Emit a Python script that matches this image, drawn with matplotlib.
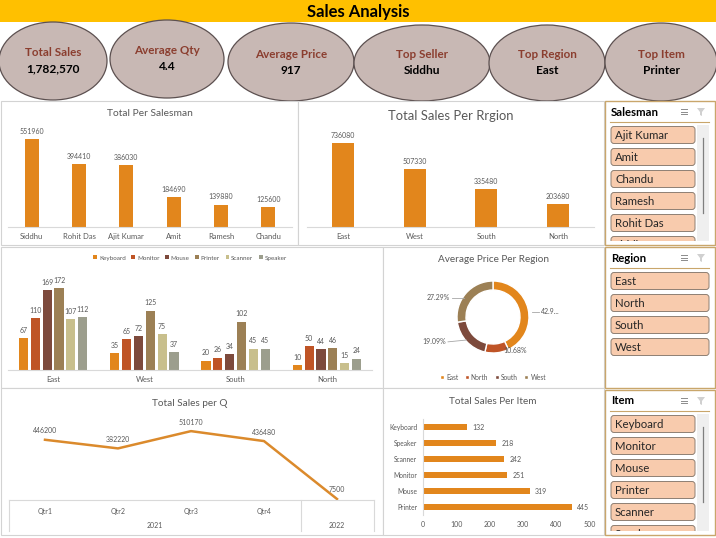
import matplotlib
matplotlib.use("Agg")
import matplotlib.pyplot as plt
from matplotlib.patches import Ellipse, Rectangle, FancyBboxPatch, Polygon

# ---- data ----
kpi_labels = ["Total Sales", "Average Qty", "Average Price", "Top Seller", "Top Region", "Top Item"]
kpi_values = ["1,782,570", "4.4", "917", "Siddhu", "East", "Printer"]

salesmen = ["Siddhu", "Rohit Das", "Ajit Kumar", "Amit", "Ramesh", "Chandu"]
salesman_totals = [551960, 394410, 386030, 184690, 139880, 125600]

regions = ["East", "West", "South", "North"]
region_totals = [736080, 507330, 335480, 203680]

items = ["Keyboard", "Monitor", "Mouse", "Printer", "Scanner", "Speaker"]
qty_east = [67, 110, 169, 172, 107, 112]
qty_west = [35, 65, 72, 125, 75, 37]
qty_south = [20, 26, 34, 102, 45, 45]
qty_north = [10, 50, 44, 46, 15, 24]

price_regions = ["East", "North", "South", "West"]
price_share = [42.94, 10.68, 19.09, 27.29]
price_labels = ["42.9...", "10.68%", "19.09%", "27.29%"]

quarters = ["Qtr1", "Qtr2", "Qtr3", "Qtr4", ""]
years = ["2021", "2022"]
quarter_sales = [446200, 382220, 510170, 436480, 7500]

item_order = ["Keyboard", "Speaker", "Scanner", "Monitor", "Mouse", "Printer"]
item_totals = [132, 218, 242, 251, 319, 445]

slicer_salesman = ["Ajit Kumar", "Amit", "Chandu", "Ramesh", "Rohit Das", "Siddhu"]
slicer_region = ["East", "North", "South", "West"]
slicer_item = ["Keyboard", "Monitor", "Mouse", "Printer", "Scanner", "Speaker"]

# ---- style ----
W, H = 716, 538
plt.rcParams["font.family"] = ["Lato", "DejaVu Sans"]
ORANGE = "#E2861C"
TXT = "#595959"
AXLINE = "#D9D9D9"
item_colors = ["#E2861C", "#BF5426", "#7D4A3C", "#9C8055", "#C8BF8C", "#9C9E8D"]
region_colors = ["#E2861C", "#BF5426", "#7D4A3C", "#9C8055"]

fig = plt.figure(figsize=(W / 100, H / 100), dpi=100)
fig.patch.set_facecolor("white")
bg = fig.add_axes([0, 0, 1, 1])
bg.set_xlim(0, W)
bg.set_ylim(H, 0)
bg.axis("off")


def px_axes(x0, y0, x1, y1):
    return fig.add_axes([x0 / W, 1 - y1 / H, (x1 - x0) / W, (y1 - y0) / H])


def clean(ax, keep_bottom=True):
    for s in ax.spines.values():
        s.set_visible(False)
    if keep_bottom:
        ax.spines["bottom"].set_visible(True)
        ax.spines["bottom"].set_color(AXLINE)
    ax.set_yticks([])
    ax.tick_params(length=0, labelsize=5.5, labelcolor=TXT, pad=4)
    ax.patch.set_alpha(0)


# banner + KPI ovals
bg.add_patch(Rectangle((0, 0), W, 22, fc="#FFC000", ec="none"))
bg.text(358, 11.5, "Sales Analysis", ha="center", va="center", fontsize=12, fontweight="bold")

ovals = [(53, 61, 108, 78), (167, 59, 114, 78), (291, 62, 126, 78),
         (422, 63, 136, 76), (547, 63, 116, 76), (661, 62, 112, 78)]
for (cx, cy, w, h), lab, val in zip(ovals, kpi_labels, kpi_values):
    bg.add_patch(Ellipse((cx, cy), w, h, fc="#C8B8B4", ec="#5C5050", lw=0.9))
    bg.text(cx, cy - 8, lab, ha="center", va="center", fontsize=8.4, color="#8B3E2F", fontweight="bold")
    bg.text(cx, cy + 8, val, ha="center", va="center", fontsize=8.6, color="black", fontweight="bold")

# panel frames
for x0, y0, x1, y1 in [(1, 101, 298, 245), (298, 101, 604, 245), (1, 247, 383, 388),
                       (383, 247, 604, 388), (1, 388, 383, 535), (383, 388, 604, 535)]:
    bg.add_patch(Rectangle((x0, y0), x1 - x0, y1 - y0, fc="white", ec="#D3D3D3", lw=0.8))


def column_chart(ax, cats, vals, ymax, width):
    x = range(len(cats))
    ax.bar(x, vals, width=width, color=ORANGE)
    for i, v in zip(x, vals):
        ax.annotate(str(v), (i, v), xytext=(0, 3), textcoords="offset points",
                    ha="center", va="bottom", fontsize=5, color=TXT)
    ax.set_xticks(list(x))
    ax.set_xticklabels(cats)
    ax.set_xlim(-0.5, len(cats) - 0.5)
    ax.set_ylim(0, ymax)
    clean(ax)


# Total Per Salesman
ax1 = px_axes(8, 131, 292, 227)
column_chart(ax1, salesmen, salesman_totals, 600000, 0.3)
bg.text(150, 114, "Total Per Salesman", ha="center", va="center", fontsize=7.4, color=TXT)

# Total Sales Per Region
ax2 = px_axes(307, 136, 594, 227)
column_chart(ax2, regions, region_totals, 800000, 0.31)
bg.text(451, 116, "Total Sales Per Rrgion", ha="center", va="center", fontsize=9.4, color=TXT)

# clustered quantity per region
ax3 = px_axes(7.5, 275, 372.5, 370)
groups = [qty_east, qty_west, qty_south, qty_north]
for j, (name, col) in enumerate(zip(items, item_colors)):
    xs = [g + (j - 2.5) * 0.13 for g in range(len(regions))]
    vs = [grp[j] for grp in groups]
    ax3.bar(xs, vs, width=0.1, color=col, label=name)
    for xx, v in zip(xs, vs):
        ax3.annotate(str(v), (xx, v), xytext=(0, 3), textcoords="offset points",
                     ha="center", va="bottom", fontsize=5, color=TXT)
ax3.set_xticks(range(len(regions)))
ax3.set_xticklabels(regions)
ax3.set_xlim(-0.5, len(regions) - 0.5)
ax3.set_ylim(0, 200)
clean(ax3)
ax3.legend(loc="center", bbox_to_anchor=(190 / W, 1 - 258 / H), bbox_transform=fig.transFigure,
           ncol=6, fontsize=4.5, frameon=False, handlelength=0.6, handleheight=0.6,
           handletextpad=0.3, columnspacing=0.9, labelcolor=TXT)

# donut
ax4 = px_axes(443, 267, 543, 367)
wedges, _ = ax4.pie(price_share, colors=region_colors, startangle=90, counterclock=False,
                    radius=1, wedgeprops=dict(width=0.25, edgecolor="white", linewidth=1))
ax4.set_xlim(-1.389, 1.389)
ax4.set_ylim(-1.389, 1.389)
label_pos = [(1.33, 0.14, "left"), (0.61, -0.93, "center"), (-1.3, -0.69, "right"), (-1.2, 0.53, "right")]
leaders = [((1.07, 1.27), (0.14, 0.14)), None, ((-1.25, -0.74), (-0.69, -0.64)), ((-1.14, -0.8), (0.53, 0.53))]
for (tx, ty, ha), lab, ld in zip(label_pos, price_labels, leaders):
    ax4.text(tx, ty, lab, ha=ha, va="center", fontsize=5, color=TXT)
    if ld:
        ax4.plot(ld[0], ld[1], color="#A6A6A6", lw=0.6, clip_on=False)
bg.text(493, 260, "Average Price Per Region", ha="center", va="center", fontsize=7.2, color=TXT)
ax4.legend(wedges, price_regions, loc="center", bbox_to_anchor=(493 / W, 1 - 377 / H),
           bbox_transform=fig.transFigure, ncol=4, fontsize=4.8, frameon=False,
           handlelength=0.6, handleheight=0.6, handletextpad=0.3, columnspacing=1.0, labelcolor=TXT)

# Total Sales per Q
ax5 = px_axes(8.5, 419, 373.5, 500)
ax5.plot(range(len(quarter_sales)), quarter_sales, color="#DB8A2C", lw=1.8)
for i, v in enumerate(quarter_sales):
    ax5.annotate(str(v), (i, v), xytext=(0, 4), textcoords="offset points",
                 ha="center", va="bottom", fontsize=5, color=TXT)
ax5.set_xlim(-0.5, len(quarter_sales) - 0.5)
ax5.set_ylim(0, 600000)
clean(ax5)
ax5.set_xticks(range(len(quarters)))
ax5.set_xticklabels(quarters)
ax5.tick_params(labelsize=5, pad=6)
tr = ax5.get_xaxis_transform()
for xv in (-0.5, 3.5, 4.5):
    ax5.plot([xv, xv], [0, -0.385], color=AXLINE, lw=0.8, transform=tr, clip_on=False)
ax5.text(1.5, -0.31, years[0], transform=tr, ha="center", va="center", fontsize=5, color=TXT)
ax5.text(4, -0.31, years[1], transform=tr, ha="center", va="center", fontsize=5, color=TXT)
bg.text(190, 403, "Total Sales per Q", ha="center", va="center", fontsize=7.2, color=TXT)

# Total Sales Per Item
ax6 = px_axes(423, 419, 590, 515)
ax6.barh(range(len(item_order)), item_totals, height=0.34, color=ORANGE)
for i, v in enumerate(item_totals):
    ax6.annotate(str(v), (v, i), xytext=(4, 0), textcoords="offset points",
                 ha="left", va="center", fontsize=5, color=TXT)
ax6.set_yticks(range(len(item_order)))
ax6.set_yticklabels(item_order)
ax6.set_ylim(len(item_order) - 0.5, -0.5)
ax6.set_xlim(0, 500)
ax6.set_xticks(range(0, 501, 100))
for s in ax6.spines.values():
    s.set_visible(False)
ax6.spines["left"].set_visible(True)
ax6.spines["left"].set_color(AXLINE)
ax6.tick_params(length=0, labelsize=5, labelcolor=TXT, pad=4)
ax6.tick_params(axis="y", labelsize=4.8)
ax6.patch.set_alpha(0)
bg.text(493, 402, "Total Sales Per Item", ha="center", va="center", fontsize=7.2, color=TXT)


# slicers
def slicer(x0, y0, x1, y1, title, names, scroll):
    frame = Rectangle((x0, y0), x1 - x0, y1 - y0, fc="white", ec="#C9A66B", lw=1)
    bg.add_patch(frame)
    clip = Rectangle((x0, y0), x1 - x0, y1 - y0 - 4, transform=bg.transData)
    bg.text(x0 + 6, y0 + 11, title, ha="left", va="center", fontsize=8.2, fontweight="bold")
    bg.plot([x0 + 5, x1 - 6], [y0 + 21, y0 + 21], color="#C9A66B", lw=0.8)
    # header icons
    for k in range(3):
        bg.plot([x0 + 76, x0 + 82], [y0 + 8 + 2.5 * k, y0 + 8 + 2.5 * k], color="#8C8C8C", lw=0.7)
    bg.add_patch(Polygon([(x0 + 92, y0 + 7), (x0 + 100, y0 + 7), (x0 + 97, y0 + 11), (x0 + 97, y0 + 15),
                          (x0 + 95, y0 + 14), (x0 + 95, y0 + 11)], closed=True, fc="#D0D0D0", ec="none"))
    right = x1 - 20 if scroll else x1 - 6
    if scroll:
        bg.add_patch(Rectangle((x1 - 18, y0 + 24), 12, y1 - y0 - 28, fc="#EFEFEF", ec="none"))
        bg.plot([x1 - 12, x1 - 12], [y0 + 37, y0 + 112], color="#7F7F7F", lw=0.9)
    for i, n in enumerate(names):
        yc = y0 + 34 + 22 * i
        b = FancyBboxPatch((x0 + 6, yc - 8.5), right - x0 - 6, 17,
                           boxstyle="round,pad=0,rounding_size=3", fc="#F8CBAD", ec="#8E7F73", lw=0.7)
        bg.add_patch(b)
        b.set_clip_path(clip)
        t = bg.text(x0 + 10, yc + 0.5, n, ha="left", va="center", fontsize=8.2, color="#262626",
                    clip_on=True)
        t.set_clip_path(clip)


slicer(605, 101, 715, 245, "Salesman", slicer_salesman, True)
slicer(605, 247, 715, 388, "Region", slicer_region, False)
slicer(605, 390, 715, 535, "Item", slicer_item, True)

fig.savefig("out.png", dpi=100)
